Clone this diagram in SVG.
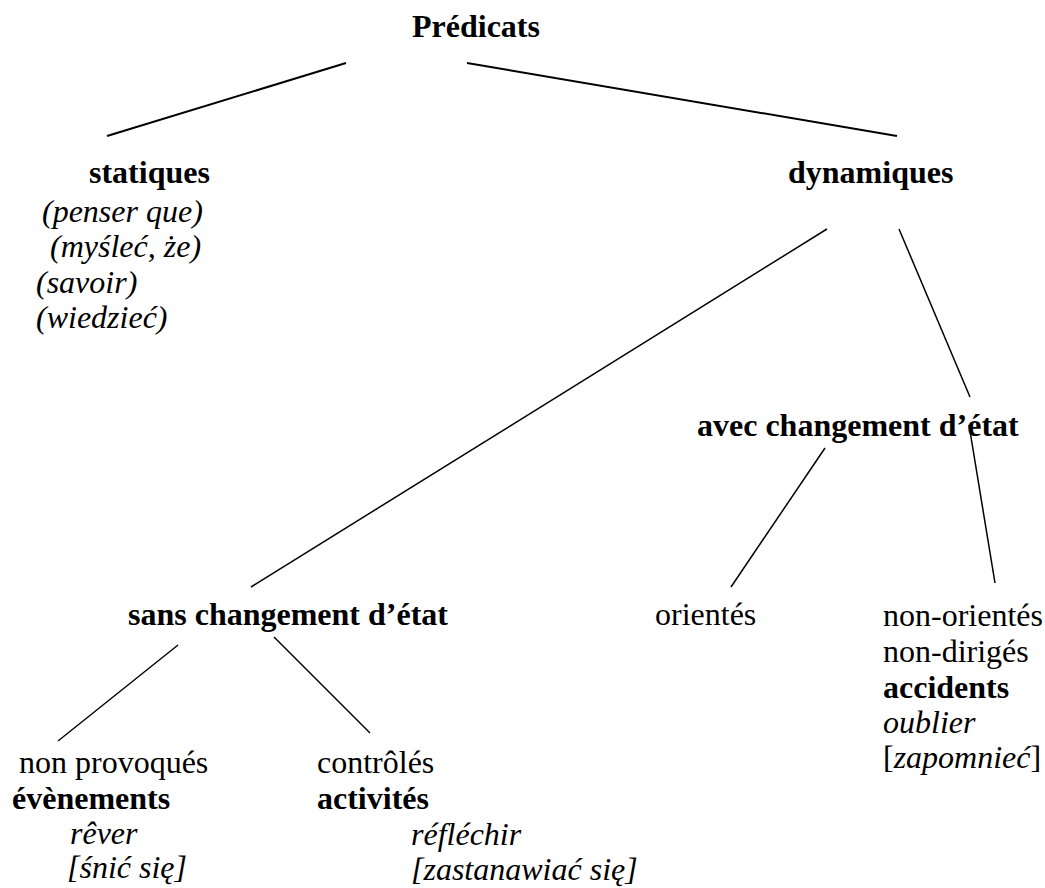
<svg xmlns="http://www.w3.org/2000/svg" width="1045" height="888" viewBox="0 0 1045 888">
<style>
text{font-family:"Liberation Serif","Times New Roman",serif;font-size:32px;fill:#000}
.b{font-weight:bold}
.i{font-style:italic}
.c line{stroke:#000;stroke-width:1.5;fill:none}
.c line.t{stroke-width:2}
</style>
<rect width="1045" height="888" fill="#fff"/>
<g id="connectors" class="c">
<line class="t" x1="346" y1="63" x2="107" y2="136"/>
<line class="t" x1="467" y1="63" x2="897" y2="136"/>
<line x1="827" y1="229" x2="251" y2="587"/>
<line x1="899" y1="229" x2="970" y2="397"/>
<line x1="825" y1="448" x2="731" y2="587"/>
<line x1="969" y1="425" x2="995" y2="583"/>
<line x1="178" y1="645" x2="58" y2="741"/>
<line x1="274" y1="637" x2="370" y2="733"/>
</g>
<g id="n-predicats"><text class="b" x="412" y="37">Prédicats</text></g>
<g id="n-statiques">
<text class="b" x="89" y="183">statiques</text>
<text class="i" x="42" y="222">(penser que)</text>
<text class="i" x="50" y="257">(myśleć, że)</text>
<text class="i" x="36" y="293">(savoir)</text>
<text class="i" x="36" y="328">(wiedzieć)</text>
</g>
<g id="n-dynamiques"><text class="b" x="788" y="183">dynamiques</text></g>
<g id="n-avec"><text class="b" x="697" y="436">avec changement d’état</text></g>
<g id="n-sans"><text class="b" x="128" y="625">sans changement d’état</text></g>
<g id="n-orientes"><text x="655" y="625">orientés</text></g>
<g id="n-non-orientes">
<text x="883" y="626">non-orientés</text>
<text x="883" y="662">non-dirigés</text>
<text class="b" x="883" y="698">accidents</text>
<text class="i" x="883" y="733">oublier</text>
<text x="883" y="768">[<tspan class="i">zapomnieć</tspan>]</text>
</g>
<g id="n-non-provoques">
<text x="19" y="773">non provoqués</text>
<text class="b" x="12" y="809">évènements</text>
<text class="i" x="70" y="844">rêver</text>
<text class="i" x="67" y="878">[śnić się]</text>
</g>
<g id="n-controles">
<text x="317" y="773">contrôlés</text>
<text class="b" x="317" y="809">activités</text>
<text class="i" x="411" y="845">réfléchir</text>
<text class="i" x="411" y="880">[zastanawiać się]</text>
</g>
</svg>
